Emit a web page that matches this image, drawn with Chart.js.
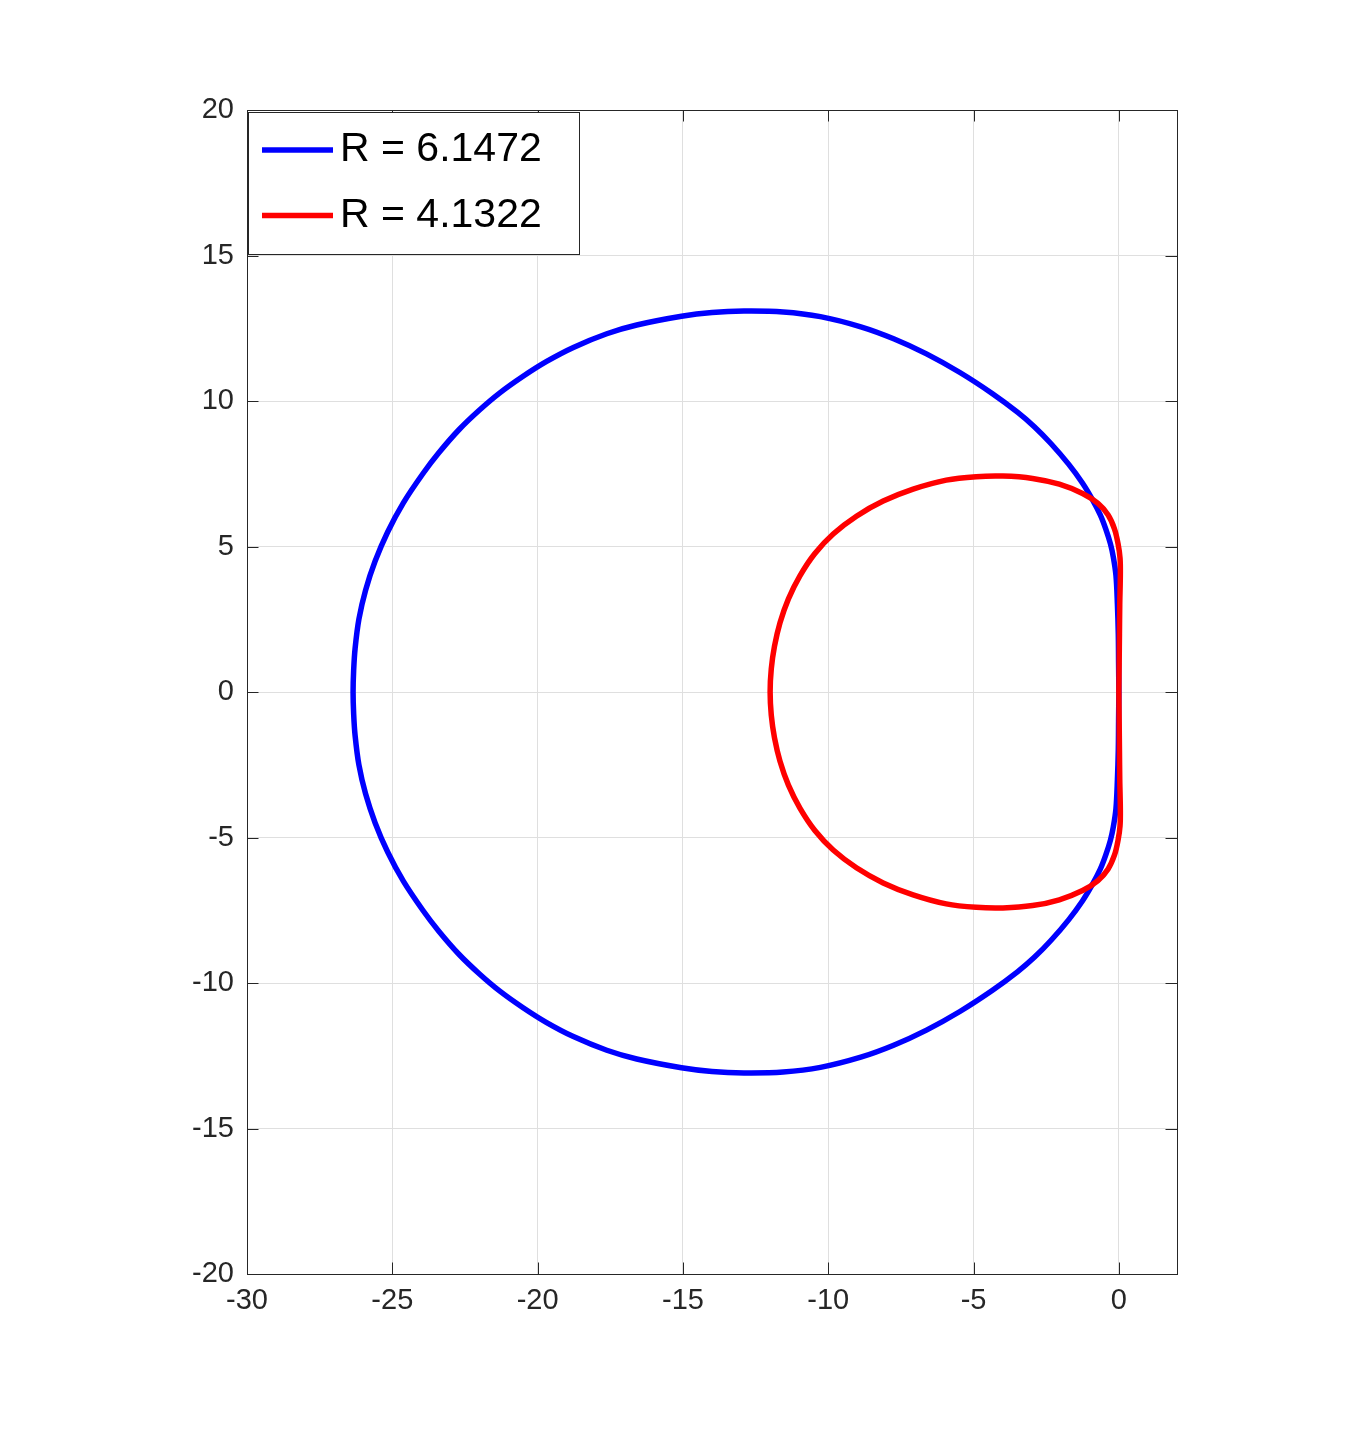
<!DOCTYPE html>
<html>
<head>
<meta charset="utf-8">
<script src="https://cdn.jsdelivr.net/npm/chart.js@4/dist/chart.umd.min.js"></script>
<style>
  html, body { margin: 0; padding: 0; background: #ffffff; }
  #wrap { position: relative; width: 1363px; height: 1430px; }
</style>
</head>
<body>
<div id="wrap"><canvas id="c" width="1363" height="1430"></canvas></div>
<script>
// ---- data ----
const seriesLabels = ['R = 6.1472', 'R = 4.1322'];
const xTicks = [-30, -25, -20, -15, -10, -5, 0];
const yTicks = [-20, -15, -10, -5, 0, 5, 10, 15, 20];

// blue contour, traced counter-clockwise starting at the origin
const blueX = [0.00, -0.01, -0.02, -0.05, -0.10, -0.19, -0.29, -0.45, -0.64, -0.92, -1.26, -1.73, -2.34, -2.90, -3.48, -4.36, -5.47, -6.62, -7.75, -8.88, -10.27, -11.55, -12.90, -14.00, -15.05, -16.59, -17.62, -18.77, -19.69, -20.50, -21.30, -22.00, -22.70, -23.40, -23.95, -24.62, -25.16, -25.59, -25.92, -26.15, -26.28, -26.33, -26.35,
  -26.33, -26.28, -26.15, -25.92, -25.59, -25.16, -24.62, -23.95, -23.40, -22.70, -22.00, -21.30, -20.50, -19.69, -18.77, -17.62, -16.59, -15.05, -14.00, -12.90, -11.55, -10.27, -8.88, -7.75, -6.62, -5.47, -4.36, -3.48, -2.90, -2.34, -1.73, -1.26, -0.92, -0.64, -0.45, -0.29, -0.19, -0.10, -0.05, -0.02, -0.01, 0.00];
const blueY = [0.00, 1.00, 2.00, 3.00, 4.00, 4.63, 5.09, 5.60, 6.09, 6.63, 7.19, 7.83, 8.54, 9.11, 9.61, 10.26, 10.98, 11.62, 12.14, 12.55, 12.90, 13.06, 13.09, 13.04, 12.91, 12.61, 12.31, 11.84, 11.36, 10.85, 10.28, 9.69, 9.02, 8.22, 7.50, 6.50, 5.50, 4.50, 3.50, 2.50, 1.50, 0.75, 0.00,
  -0.75, -1.50, -2.50, -3.50, -4.50, -5.50, -6.50, -7.50, -8.22, -9.02, -9.69, -10.28, -10.85, -11.36, -11.84, -12.31, -12.61, -12.91, -13.04, -13.09, -13.06, -12.90, -12.55, -12.14, -11.62, -10.98, -10.26, -9.61, -9.11, -8.54, -7.83, -7.19, -6.63, -6.09, -5.60, -5.09, -4.63, -4.00, -3.00, -2.00, -1.00, 0.00];

// red contour, traced counter-clockwise starting at the origin
const redX = [0.00, 0.01, 0.02, 0.03, 0.05, 0.04, -0.03, -0.15, -0.37, -0.72, -1.25, -2.05, -2.97, -3.99, -4.91, -5.94, -7.08, -8.11, -9.03, -9.83, -10.46, -10.97, -11.37, -11.66, -11.85, -11.96, -12.00,
  -11.96, -11.85, -11.66, -11.37, -10.97, -10.46, -9.83, -9.03, -8.11, -7.08, -5.94, -4.91, -3.99, -2.97, -2.05, -1.25, -0.72, -0.37, -0.15, -0.03, 0.04, 0.05, 0.03, 0.02, 0.01, 0.00];
const redY = [0.00, 1.00, 2.00, 3.00, 4.00, 4.60, 5.10, 5.60, 6.08, 6.48, 6.82, 7.14, 7.34, 7.42, 7.40, 7.28, 6.97, 6.56, 6.04, 5.43, 4.76, 4.00, 3.20, 2.38, 1.57, 0.80, 0.00,
  -0.80, -1.57, -2.38, -3.20, -4.00, -4.76, -5.43, -6.04, -6.56, -6.97, -7.28, -7.40, -7.42, -7.34, -7.14, -6.82, -6.48, -6.08, -5.60, -5.10, -4.60, -4.00, -3.00, -2.00, -1.00, 0.00];

const toPts = (xs, ys) => xs.map((x, i) => ({ x: x, y: ys[i] }));

const AXIS_COLOR = '#262626';
const TICK_FONT = { family: '"Liberation Sans", Arial, Helvetica, sans-serif', size: 29 };

const boxTicksPlugin = {
  id: 'boxTicks',
  afterDatasetsDraw(chart) {
    const { ctx, chartArea: a, scales } = chart;
    const tl = 11.5;
    ctx.save();
    ctx.strokeStyle = AXIS_COLOR;
    ctx.lineWidth = 1;
    ctx.beginPath();
    xTicks.forEach(v => {
      const px = Math.round(scales.x.getPixelForValue(v)) + 0.5;
      ctx.moveTo(px, a.bottom); ctx.lineTo(px, a.bottom - tl);
      ctx.moveTo(px, a.top); ctx.lineTo(px, a.top + tl);
    });
    yTicks.forEach(v => {
      const py = Math.round(scales.y.getPixelForValue(v)) + 0.5;
      ctx.moveTo(a.left, py); ctx.lineTo(a.left + tl, py);
      ctx.moveTo(a.right, py); ctx.lineTo(a.right - tl, py);
    });
    ctx.stroke();
    ctx.strokeRect(Math.round(a.left) + 0.5, Math.round(a.top) + 0.5, Math.round(a.right - a.left), Math.round(a.bottom - a.top));

    // legend box (top-left inside the axes)
    const lx = a.left + 1, ly = a.top + 2, lw = 331, lh = 142;
    ctx.fillStyle = '#ffffff';
    ctx.fillRect(lx, ly, lw, lh);
    ctx.strokeStyle = AXIS_COLOR;
    ctx.strokeRect(Math.round(lx) + 0.5, Math.round(ly) + 0.5, lw, lh);
    chart.data.datasets.forEach((ds, i) => {
      const cy = ly + 38 + i * 65.5;
      ctx.strokeStyle = ds.borderColor;
      ctx.lineWidth = 5.5;
      ctx.beginPath();
      ctx.moveTo(lx + 14, cy);
      ctx.lineTo(lx + 85, cy);
      ctx.stroke();
      ctx.fillStyle = '#000000';
      ctx.font = '41px "Liberation Sans", Arial, Helvetica, sans-serif';
      ctx.textBaseline = 'middle';
      ctx.textAlign = 'left';
      ctx.fillText(ds.label, lx + 92, cy);
    });
    ctx.restore();
  }
};

new Chart(document.getElementById('c'), {
  type: 'scatter',
  data: {
    datasets: [
      { label: seriesLabels[0], data: toPts(blueX, blueY), showLine: true, borderColor: '#0000ff', backgroundColor: '#0000ff', borderWidth: 5.5, pointRadius: 0, tension: 0.35, fill: false, order: 1 },
      { label: seriesLabels[1], data: toPts(redX, redY), showLine: true, borderColor: '#ff0000', backgroundColor: '#ff0000', borderWidth: 5.5, pointRadius: 0, tension: 0.35, fill: false, order: 0 }
    ]
  },
  options: {
    responsive: false,
    animation: false,
    devicePixelRatio: 1,
    layout: { padding: { left: 0, top: 110, right: 186, bottom: 0 } },
    plugins: { legend: { display: false }, tooltip: { enabled: false } },
    scales: {
      x: {
        type: 'linear', min: -30, max: 2,
        afterBuildTicks: s => { s.ticks = xTicks.map(v => ({ value: v })); },
        afterFit: s => { s.height = 156; },
        grid: { color: '#dfdfdf', lineWidth: 1, drawTicks: false },
        border: { display: false },
        ticks: { color: AXIS_COLOR, font: TICK_FONT, padding: 10, maxRotation: 0, autoSkip: false }
      },
      y: {
        type: 'linear', min: -20, max: 20,
        afterBuildTicks: s => { s.ticks = yTicks.map(v => ({ value: v })); },
        afterFit: s => { s.width = 247; },
        grid: { color: '#dfdfdf', lineWidth: 1, drawTicks: false },
        border: { display: false },
        ticks: { color: AXIS_COLOR, font: TICK_FONT, padding: 13, autoSkip: false }
      }
    }
  },
  plugins: [boxTicksPlugin]
});
</script>
</body>
</html>
